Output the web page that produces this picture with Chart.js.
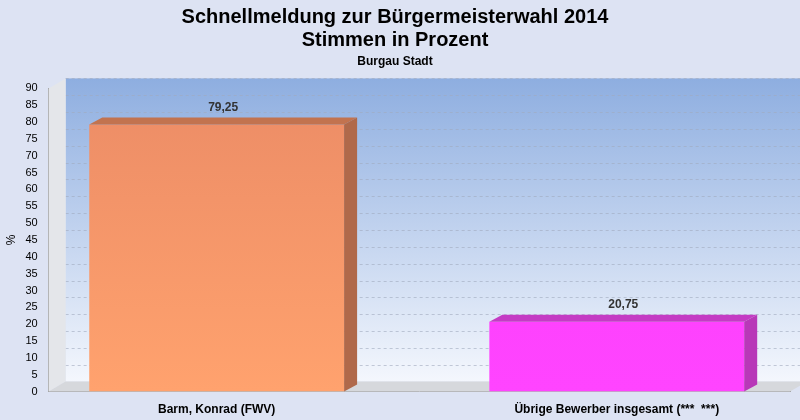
<!DOCTYPE html>
<html>
<head>
<meta charset="utf-8">
<script src="https://cdn.jsdelivr.net/npm/chart.js@4"></script>
<style>
  html, body { margin: 0; padding: 0; background: #dde3f3; }
  #wrap { width: 800px; height: 420px; }
</style>
</head>
<body>
<div id="wrap"><canvas id="chart" width="800" height="420"></canvas></div>
<script>
// Werte
const categories = ['Barm, Konrad (FWV)', 'Übrige Bewerber insgesamt (***  ***)'];
const percents = [79.25, 20.75];
const frontTop = ['#ec8c66', '#fb3cfb'];
const frontBottom = ['#ffa26e', '#ff44ff'];
const topColors = ['#c2734f', '#c43bc4'];
const sideColors = ['#b0694a', '#b838b8'];

const WDX = 17, WDY = 10; // Tiefe Wand
const DX = 13, DY = 7;    // Tiefe Balken

const depthPlugin = {
    id: 'depth',
    beforeDatasetsDraw(chart) {
        const ctx = chart.ctx, a = chart.chartArea;
        ctx.save();
        const g = ctx.createLinearGradient(0, a.top - WDY, 0, a.bottom - WDY);
        g.addColorStop(0, '#8eaee0');
        g.addColorStop(1, '#f4f7fd');
        ctx.fillStyle = g;
        ctx.fillRect(a.left + WDX, a.top - WDY, a.right - a.left, a.bottom - a.top);
        const y = chart.scales.y;
        ctx.strokeStyle = 'rgba(160,170,190,0.6)';
        ctx.setLineDash([3, 3]);
        ctx.lineWidth = 1;
        for (let v = 5; v <= 90; v += 5) {
            const py = Math.round(y.getPixelForValue(v)) + 0.5 - WDY;
            ctx.beginPath(); ctx.moveTo(a.left + WDX, py); ctx.lineTo(a.right + WDX, py); ctx.stroke();
        }
        ctx.setLineDash([]);
        ctx.fillStyle = '#e4e6ea';
        ctx.beginPath();
        ctx.moveTo(a.left, a.top); ctx.lineTo(a.left + WDX, a.top - WDY);
        ctx.lineTo(a.left + WDX, a.bottom - WDY); ctx.lineTo(a.left, a.bottom);
        ctx.closePath(); ctx.fill();
        ctx.fillStyle = '#d6d8dc';
        ctx.beginPath();
        ctx.moveTo(a.left, a.bottom); ctx.lineTo(a.left + WDX, a.bottom - WDY);
        ctx.lineTo(a.right + WDX, a.bottom - WDY); ctx.lineTo(a.right, a.bottom);
        ctx.closePath(); ctx.fill();
        ctx.restore();
    },
    afterDatasetsDraw(chart) {
        const ctx = chart.ctx;
        const meta = chart.getDatasetMeta(0);
        ctx.save();
        meta.data.forEach((bar, i) => {
            const l = bar.x - bar.width / 2, r = bar.x + bar.width / 2;
            const t = bar.y, b = bar.base;
            ctx.fillStyle = topColors[i];
            ctx.beginPath();
            ctx.moveTo(l, t); ctx.lineTo(l + DX, t - DY); ctx.lineTo(r + DX, t - DY); ctx.lineTo(r, t);
            ctx.closePath(); ctx.fill();
            ctx.fillStyle = sideColors[i];
            ctx.beginPath();
            ctx.moveTo(r, t); ctx.lineTo(r + DX, t - DY); ctx.lineTo(r + DX, b - DY); ctx.lineTo(r, b);
            ctx.closePath(); ctx.fill();
            ctx.fillStyle = '#333';
            ctx.font = 'bold 12px "Liberation Sans", Arial, sans-serif';
            ctx.textAlign = 'center';
            ctx.textBaseline = 'bottom';
            ctx.fillText(percents[i].toFixed(2).replace('.', ','), bar.x + DX / 2, t - DY - 4);
        });
        ctx.restore();
    }
};

new Chart(document.getElementById('chart').getContext('2d'), {
    type: 'bar',
    data: {
        datasets: [{
            data: percents.map((v, i) => ({ x: i, y: v })),
            backgroundColor: (c) => {
                const a = c.chart.chartArea;
                if (!a) return frontBottom[c.dataIndex];
                const g = c.chart.ctx.createLinearGradient(0, a.top, 0, a.bottom);
                g.addColorStop(0, frontTop[c.dataIndex]);
                g.addColorStop(1, frontBottom[c.dataIndex]);
                return g;
            },
            borderWidth: 0,
            barPercentage: 0.637,
            categoryPercentage: 1
        }]
    },
    options: {
        responsive: false,
        animation: false,
        layout: { padding: { left: 0, right: 10, top: 2, bottom: 0 } },
        plugins: {
            legend: { display: false },
            tooltip: { enabled: false },
            title: {
                display: true,
                text: ['Schnellmeldung zur Bürgermeisterwahl 2014', 'Stimmen in Prozent'],
                color: '#000',
                font: { family: '"Liberation Sans", Arial, sans-serif', size: 20, weight: 'bold', lineHeight: 1.15 },
                padding: { top: 4, bottom: 2 }
            },
            subtitle: {
                display: true,
                text: 'Burgau Stadt',
                color: '#000',
                font: { family: '"Liberation Sans", Arial, sans-serif', size: 12, weight: 'bold' },
                padding: { bottom: 20 }
            }
        },
        scales: {
            x: {
                type: 'linear',
                min: -0.42, max: 1.433,
                offset: false,
                grid: { display: false },
                border: { color: '#999' },
                afterBuildTicks: (s) => { s.ticks = [{ value: 0 }, { value: 1 }]; },
                ticks: {
                    callback: (v) => categories[v],
                    color: '#000',
                    font: { family: '"Liberation Sans", Arial, sans-serif', size: 12, weight: 'bold' }
                }
            },
            y: {
                min: 0, max: 90,
                ticks: { stepSize: 5, color: '#000', font: { family: '"Liberation Sans", Arial, sans-serif', size: 11 } },
                grid: { display: false },
                border: { color: '#999' },
                title: { display: true, text: '%', color: '#000', font: { family: '"Liberation Sans", Arial, sans-serif', size: 12 } }
            }
        }
    },
    plugins: [depthPlugin]
});
</script>
</body>
</html>
